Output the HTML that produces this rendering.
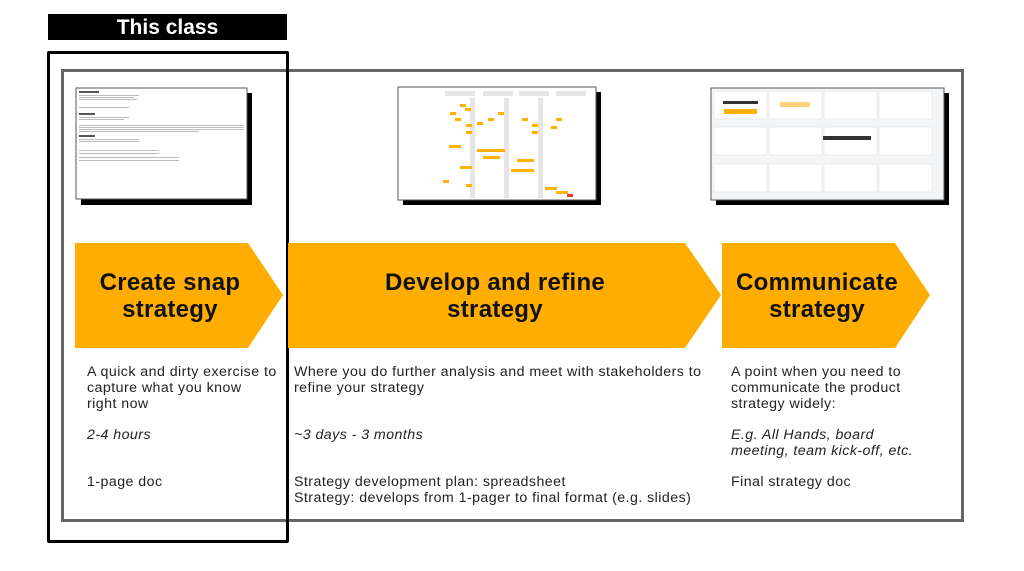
<!DOCTYPE html>
<html><head><meta charset="utf-8"><style>
body{margin:0;width:1024px;height:571px;background:#fff;position:relative;overflow:hidden;font-family:"Liberation Sans",sans-serif;color:#222}
.a{position:absolute}
.t{position:absolute;font-size:14.2px;letter-spacing:0.45px;line-height:16px;white-space:nowrap}
.h{position:absolute;font-weight:bold;font-size:24px;letter-spacing:0.3px;line-height:27px;text-align:center;color:#111}
</style></head><body>
<div class="a" style="left:61px;top:69px;width:897px;height:447px;border:3px solid #666"></div>
<div class="a" style="left:48px;top:14px;width:239px;height:26px;background:#000;color:#fff;font-weight:bold;font-size:21px;text-align:center;line-height:27px">This class</div>
<div class="a" style="left:47px;top:51px;width:236px;height:486px;border:3px solid #000;border-radius:2px"></div>

<svg class="a" style="left:0;top:0" width="1024" height="571">
<polygon points="75,243 248,243 283,295 248,348 75,348" fill="#FFAD00"/>
<polygon points="288,243 685,243 721,295 685,348 288,348" fill="#FFAD00"/>
<polygon points="722,243 895,243 930,295 895,348 722,348" fill="#FFAD00"/>
<rect x="81" y="93" width="171" height="112" fill="#000"/>
<rect x="76" y="88" width="171" height="111" fill="#fff" stroke="#555"/>
<g fill="#bbb">
<rect x="79" y="91" width="20" height="2" fill="#555"/><rect x="79" y="95" width="60" height="1"/><rect x="79" y="97" width="55" height="1"/><rect x="79" y="99" width="58" height="1"/>
<rect x="79" y="107" width="50" height="1"/>
<rect x="79" y="113" width="16" height="2" fill="#555"/><rect x="79" y="117" width="50" height="1"/><rect x="79" y="119" width="45" height="1"/>
<rect x="79" y="125" width="165" height="1"/><rect x="79" y="127" width="165" height="1"/><rect x="79" y="129" width="165" height="1"/><rect x="79" y="131" width="120" height="1"/>
<rect x="79" y="135" width="16" height="2" fill="#555"/><rect x="79" y="139" width="60" height="1"/><rect x="79" y="141" width="60" height="1"/>
<rect x="79" y="150" width="80" height="1"/><rect x="79" y="153" width="80" height="1"/><rect x="79" y="157" width="100" height="1"/><rect x="79" y="160" width="100" height="1"/>
</g>
<rect x="403" y="92" width="198" height="113" fill="#000"/>
<rect x="398" y="87" width="198" height="113" fill="#fff" stroke="#555"/>
<g fill="#e6e6e6"><rect x="445" y="91" width="30" height="5"/><rect x="483" y="91" width="30" height="5"/><rect x="519" y="91" width="30" height="5"/><rect x="556" y="91" width="30" height="5"/>
<rect x="470" y="98" width="5" height="100"/><rect x="504" y="98" width="5" height="100"/><rect x="538" y="98" width="5" height="100"/></g>
<g fill="#FFB300">
<rect x="460" y="104" width="6" height="3"/><rect x="465" y="108" width="6" height="3"/><rect x="450" y="112" width="6" height="3"/><rect x="498" y="112" width="6" height="3"/>
<rect x="455" y="118" width="6" height="3"/><rect x="488" y="118" width="6" height="3"/><rect x="522" y="118" width="6" height="3"/><rect x="556" y="118" width="6" height="3"/>
<rect x="466" y="124" width="6" height="3"/><rect x="477" y="122" width="6" height="3"/><rect x="532" y="124" width="6" height="3"/><rect x="551" y="126" width="6" height="3"/>
<rect x="466" y="131" width="6" height="3"/><rect x="532" y="131" width="6" height="3"/>
<rect x="449" y="145" width="12" height="3"/><rect x="477" y="149" width="28" height="3"/><rect x="483" y="156" width="17" height="3"/><rect x="517" y="159" width="17" height="3"/>
<rect x="460" y="166" width="12" height="3"/><rect x="511" y="169" width="23" height="3"/>
<rect x="443" y="180" width="6" height="3"/><rect x="466" y="184" width="6" height="3"/><rect x="545" y="187" width="12" height="3"/><rect x="556" y="191" width="12" height="3"/></g>
<rect x="567" y="194" width="6" height="3" fill="#e33"/>
<rect x="716" y="93" width="233" height="112" fill="#000"/>
<rect x="711" y="88" width="233" height="112" fill="#f4f5f7" stroke="#555"/>
<g fill="#fff" stroke="#ddd" stroke-width="0.5">
<rect x="714" y="91" width="53" height="28"/><rect x="769" y="91" width="53" height="28"/><rect x="824" y="91" width="53" height="28"/><rect x="879" y="91" width="53" height="28"/>
<rect x="714" y="127" width="53" height="28"/><rect x="769" y="127" width="53" height="28"/><rect x="824" y="127" width="53" height="28"/><rect x="879" y="127" width="53" height="28"/>
<rect x="714" y="164" width="53" height="28"/><rect x="769" y="164" width="53" height="28"/><rect x="824" y="164" width="53" height="28"/><rect x="879" y="164" width="53" height="28"/></g>
<rect x="723" y="101" width="35" height="3" fill="#333"/><rect x="724" y="109" width="33" height="5" fill="#FFB300"/><rect x="780" y="102" width="30" height="5" fill="#FFD27a"/>
<rect x="823" y="136" width="48" height="4" fill="#333"/>
</svg>

<div class="h" style="left:60px;top:269px;width:220px">Create snap<br>strategy</div>
<div class="h" style="left:310px;top:269px;width:370px">Develop and refine<br>strategy</div>
<div class="h" style="left:707px;top:269px;width:220px">Communicate<br>strategy</div>

<div class="t" style="left:87px;top:364px">A quick and dirty exercise to<br>capture what you know<br>right now</div>
<div class="t" style="left:87px;top:427px;font-style:italic">2-4 hours</div>
<div class="t" style="left:87px;top:474px">1-page doc</div>

<div class="t" style="left:294px;top:364px">Where you do further analysis and meet with stakeholders to<br>refine your strategy</div>
<div class="t" style="left:294px;top:427px;font-style:italic">~3 days - 3 months</div>
<div class="t" style="left:294px;top:474px">Strategy development plan: spreadsheet<br>Strategy: develops from 1-pager to final format (e.g. slides)</div>

<div class="t" style="left:731px;top:364px">A point when you need to<br>communicate the product<br>strategy widely:</div>
<div class="t" style="left:731px;top:427px;font-style:italic">E.g. All Hands, board<br>meeting, team kick-off, etc.</div>
<div class="t" style="left:731px;top:474px">Final strategy doc</div>
</body></html>
